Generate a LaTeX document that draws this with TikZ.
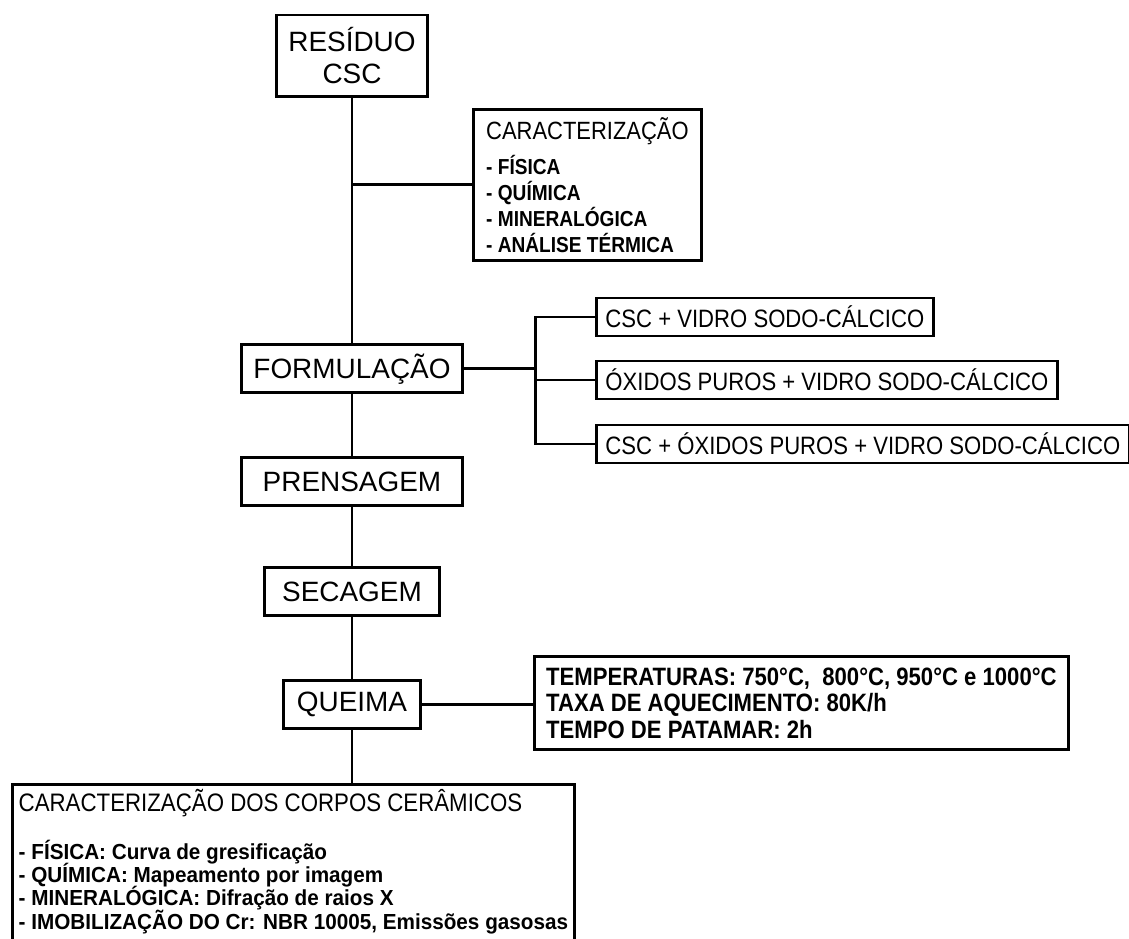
\documentclass[tikz,border=0pt]{standalone}
\usepackage{fontspec}
\setmainfont{Liberation Sans}
\newfontfamily\narrowfont[FakeStretch=0.88]{Liberation Sans}
\newfontfamily\itemfont[FakeStretch=0.95]{Liberation Sans}
\newcommand\tightlines{\lineskiplimit=-100pt\relax}
\usetikzlibrary{positioning,calc}

\begin{document}
\begin{tikzpicture}[
    x=0.02cm, y=-0.02cm,
    box/.style={rectangle, draw, line width=1.7pt, inner sep=0pt},
    stage/.style={box, minimum height=0.96cm, align=center,
                  font=\fontsize{15.9}{18.2}\selectfont},
    mix/.style={box, anchor=west, minimum height=0.76cm, inner xsep=0.18cm,
                font=\narrowfont\fontsize{14.3}{16}\selectfont},
    info/.style={box, anchor=north west, align=left},
    link/.style={line width=1.7pt}
  ]
  \useasboundingbox (0,0) rectangle (1129,939);
  \clip (0,0) rectangle (1129,939);

  % main column
  \node[stage, minimum width=3.04cm, minimum height=1.64cm]
    at (352,56) (residuo) {RESÍDUO\\CSC};
  \node[stage, minimum width=4.42cm, below=4.9cm of residuo]
    (formulacao) {FORMULAÇÃO};
  \node[stage, minimum width=4.42cm, below=1.24cm of formulacao]
    (prensagem) {PRENSAGEM};
  \node[stage, minimum width=3.52cm, below=1.18cm of prensagem]
    (secagem) {SECAGEM};
  \node[stage, minimum width=2.74cm, below=1.24cm of secagem]
    (queima) {QUEIMA};

  % side boxes
  \node[info, minimum width=4.56cm, minimum height=3.02cm,
        font=\narrowfont\bfseries\fontsize{12.35}{14.8}\selectfont]
    at (472,108) (caract)
    {{\mdseries\fontsize{14.2}{14.8}\selectfont CARACTERIZAÇÃO}\\[5pt]
     - FÍSICA\\ - QUÍMICA\\ - MINERALÓGICA\\ - ANÁLISE TÉRMICA};

  \node[mix] at (595,317) (mix1) {CSC + VIDRO SODO-CÁLCICO};
  \node[mix] at (595,380) (mix2) {ÓXIDOS PUROS + VIDRO SODO-CÁLCICO};
  \node[mix] at (595,444) (mix3) {CSC + ÓXIDOS PUROS + VIDRO SODO-CÁLCICO};

  \node[info, minimum width=10.68cm, minimum height=1.86cm,
        font=\narrowfont\bfseries\fontsize{14.3}{15.1}\selectfont]
    at (533,655) (queima_info)
    {TEMPERATURAS: 750°C,\ \ 800°C, 950°C e 1000°C\\
     TAXA DE AQUECIMENTO: 80K/h\\
     TEMPO DE PATAMAR: 2h};

  \node[info, minimum width=11.24cm, inner xsep=0.1cm, inner ysep=0.1cm,
        font=\itemfont\bfseries\fontsize{12.4}{13.3}\selectfont\tightlines]
    at (11,783) (corpos)
    {{\narrowfont\mdseries\fontsize{14.4}{13.3}\selectfont CARACTERIZAÇÃO DOS CORPOS CERÂMICOS}\\[13.7pt]
     - FÍSICA: Curva de gresificação\\
     - QUÍMICA: Mapeamento por imagem\\
     - MINERALÓGICA: Difração de raios X\\
     - IMOBILIZAÇÃO DO Cr: NBR 10005, Emissões gasosas\\[0.6cm]\mbox{}};

  % connectors
  \draw[link] (residuo) -- (formulacao);
  \draw[link] (caract.west) -- (caract.west -| residuo.south);
  \draw[link] (formulacao) -- (prensagem);
  \draw[link] (prensagem) -- (secagem);
  \draw[link] (secagem) -- (queima);

  \coordinate[right=1.43cm of formulacao.east] (fork);
  \draw[link] (formulacao.east) -- (fork);
  \draw[link] (mix1.west) -| (fork) |- (mix3.west);
  \draw[link] (fork |- mix2.west) -- (mix2.west);

  \draw[link] (queima.east) -- (queima.east -| queima_info.west);
  \draw[link] (queima.south) -- (queima.south |- corpos.north);
\end{tikzpicture}
\end{document}
